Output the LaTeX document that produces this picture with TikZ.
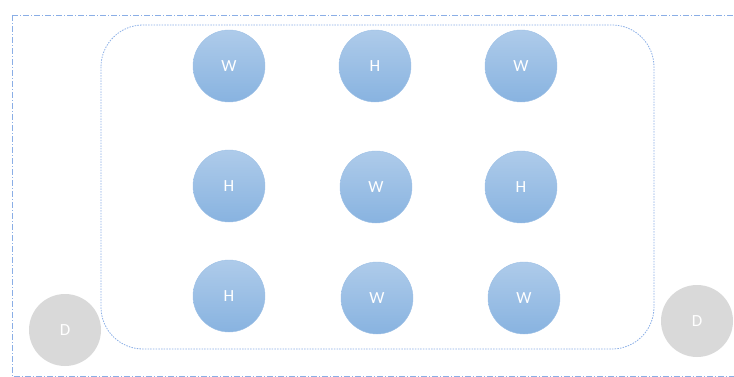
\documentclass[tikz,border=0pt]{standalone}
\usepackage{fontspec}
\setmainfont{Carlito}
\definecolor{btop}{HTML}{AECBEA}
\definecolor{bbot}{HTML}{88B3E0}
\definecolor{bedge}{HTML}{9DC0E6}
\definecolor{dgray}{HTML}{D9D9D9}
\definecolor{lineblue}{HTML}{8AAEE6}
\tikzset{
  worker/.style={circle, minimum size=72pt, inner sep=0pt, top color=btop, bottom color=bbot, draw=bedge, line width=0.4pt, text=white, font=\fontsize{17}{19}\selectfont},
  dnode/.style={circle, minimum size=72pt, inner sep=0pt, fill=dgray, text=white, font=\fontsize{17}{19}\selectfont},
}
\begin{document}
\begin{tikzpicture}[x=1pt,y=-1pt]
\useasboundingbox (0,0) rectangle (734,377);
\draw[lineblue, dash pattern=on 6pt off 2pt on 1pt off 2pt, line width=0.8pt] (12,15) -- (740,15) (12,15) -- (12,376) -- (740,376);
\draw[lineblue, dash pattern=on 1.5pt off 1.2pt, line width=0.8pt, rounded corners=42pt] (101,25) rectangle (654,349);
\node[worker] (w1) at (229,66) {W};
\node[worker] (h1) at (375,66) {H};
\node[worker] (w2) at (521,66) {W};
\node[worker] (h2) at (229,186) {H};
\node[worker] (w3) at (376,187) {W};
\node[worker] (h3) at (521,187) {H};
\node[worker] (h4) at (229,296) {H};
\node[worker] (w4) at (377,298) {W};
\node[worker] (w5) at (524,298) {W};
\node[dnode] (d1) at (65,330) {D};
\node[dnode] (d2) at (697,321) {D};
\end{tikzpicture}
\end{document}
